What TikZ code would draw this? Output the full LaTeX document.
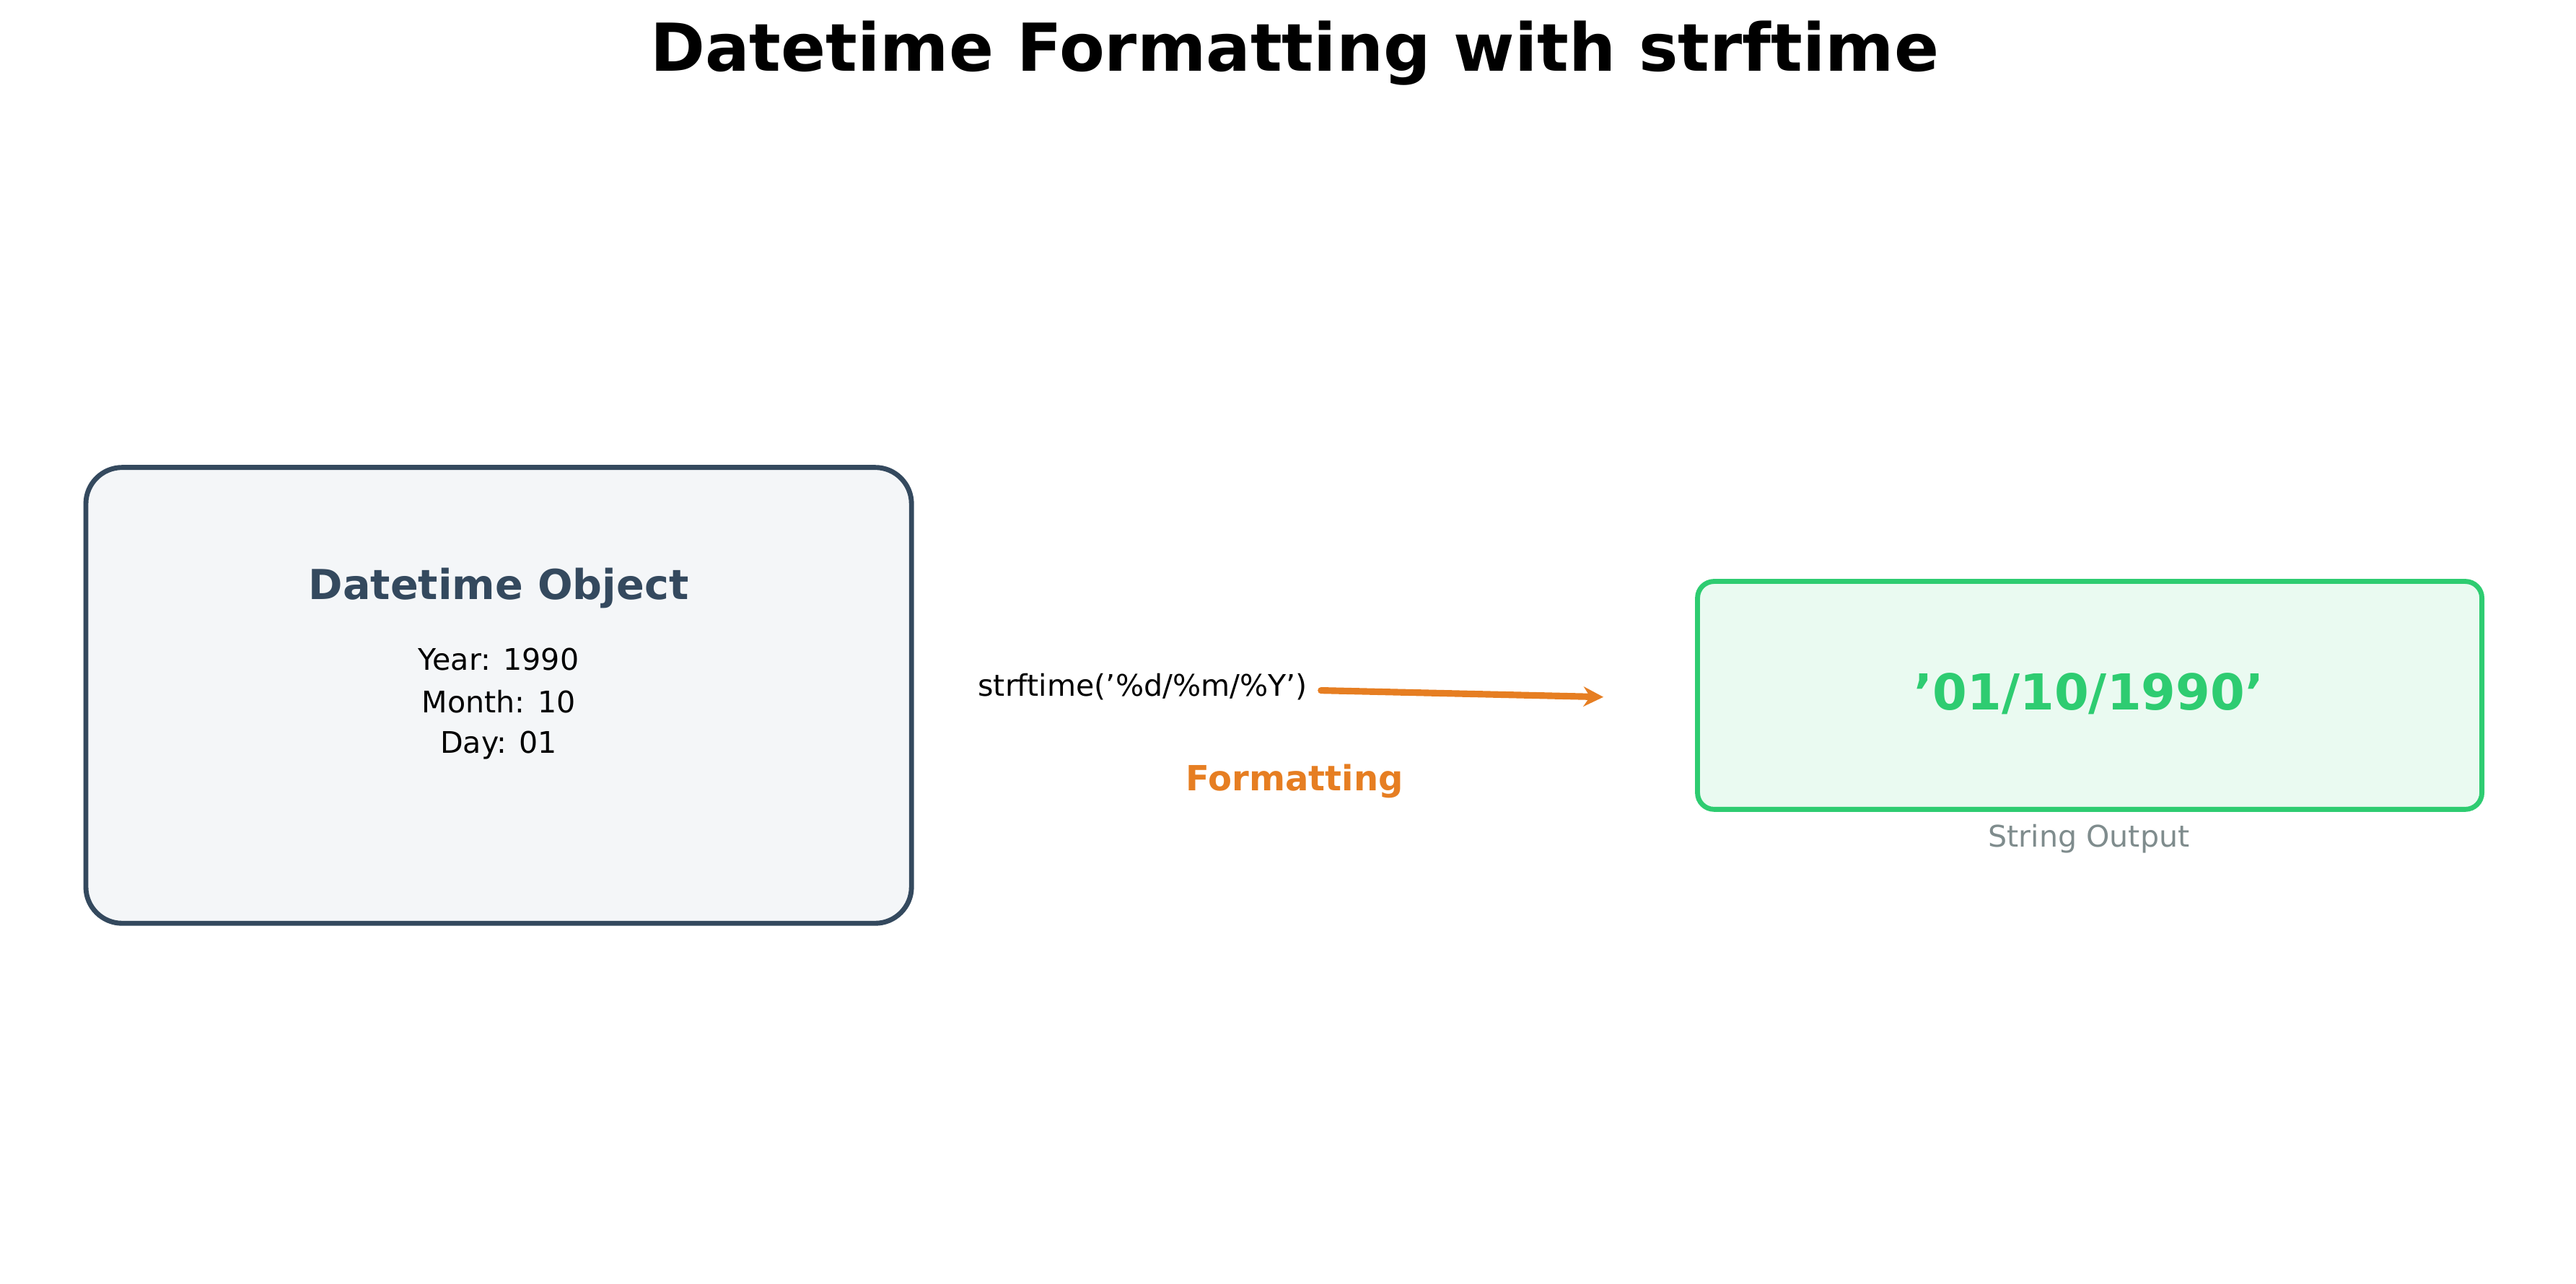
\documentclass[tikz,border=0pt]{standalone}
\usetikzlibrary{arrows.meta}
\usepackage{fontspec}
\setmainfont{DejaVu Sans}
\begin{document}
\begin{tikzpicture}[x=0.5pt,y=-0.5pt,
  lbl/.style={font=\fontsize{9}{11}\selectfont,inner sep=0},
  box/.style={line width=1.5pt}]
\definecolor{navy}{HTML}{34495E}
\definecolor{lgray}{HTML}{F4F6F8}
\definecolor{orng}{HTML}{E67E22}
\definecolor{grn}{HTML}{2ECC71}
\definecolor{lgrn}{HTML}{EAFAF1}
\definecolor{gry}{HTML}{7F8C8D}
\useasboundingbox (0,0) rectangle (1560,777);
\node[font=\fontsize{20}{24}\selectfont\bfseries] (title) at (784,32) {Datetime Formatting with strftime};
\draw[box,draw=navy,fill=lgray,rounded corners=11pt] (52,283) rectangle (552,559);
\node[font=\fontsize{12.5}{15}\selectfont\bfseries,text=navy] (dobj) at (302,356) {Datetime Object};
\node[lbl] (yr) at (302,399) {Year: 1990};
\node[lbl] (mo) at (302,425) {Month: 10};
\node[lbl] (dy) at (302,451) {Day: 01};
\node[lbl] (fn) at (692,416) {strftime('\%d/\%m/\%Y')};
\coordinate (a1) at (800,418);
\coordinate (a2) at (971,422);
\draw[orng,line width=2pt,line cap=round,-{Stealth[length=6pt,width=6pt]}] (a1) -- (a2);
\node[font=\fontsize{10.5}{13}\selectfont\bfseries,text=orng] (fmt) at (784,473) {Formatting};
\draw[box,draw=grn,fill=lgrn,rounded corners=5pt] (1028,352) rectangle (1503,490);
\node[font=\fontsize{15}{18}\selectfont\bfseries,text=grn] (out) at (1265,420) {'01/10/1990'};
\node[lbl,text=gry] (so) at (1265,508) {String Output};
\end{tikzpicture}
\end{document}
